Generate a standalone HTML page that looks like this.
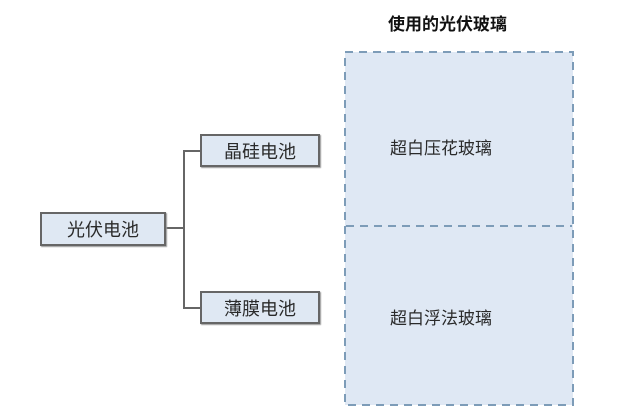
<!DOCTYPE html>
<html><head><meta charset="utf-8"><style>
html,body{margin:0;padding:0;background:#fff;}
body{width:632px;height:418px;position:relative;overflow:hidden;font-family:"Liberation Sans","Noto Sans CJK SC",sans-serif;color:#2a2a2a;}
.b{position:absolute;background:#dfe8f3;border:2px solid #666;box-sizing:border-box;font-size:18px;display:flex;align-items:center;justify-content:center;box-shadow:1px 1px 1px #999;}
.t{position:absolute;font-size:17px;}
</style></head><body>
<div class="t" style="left:388px;top:10px;font-weight:bold;font-size:17px;color:#111;">使用的光伏玻璃</div>
<svg width="632" height="418" style="position:absolute;left:0;top:0">
<rect x="345" y="52" width="228" height="353" fill="#dfe8f4" stroke="#7d9cb8" stroke-width="2" stroke-dasharray="8,6"/>
<line x1="346" y1="226" x2="572" y2="226" stroke="#7d9cb8" stroke-width="2" stroke-dasharray="8,6"/>
<polyline points="166,228 184,228" fill="none" stroke="#666" stroke-width="2"/>
<polyline points="200,151 184,151 184,308 200,308" fill="none" stroke="#666" stroke-width="2"/>
</svg>
<div class="b" style="left:40px;top:212px;width:126px;height:34px;">光伏电池</div>
<div class="b" style="left:200px;top:134px;width:120px;height:33px;">晶硅电池</div>
<div class="b" style="left:200px;top:291px;width:120px;height:33px;">薄膜电池</div>
<div class="t" style="left:390px;top:134px;">超白压花玻璃</div>
<div class="t" style="left:390px;top:304px;">超白浮法玻璃</div>
</body></html>
